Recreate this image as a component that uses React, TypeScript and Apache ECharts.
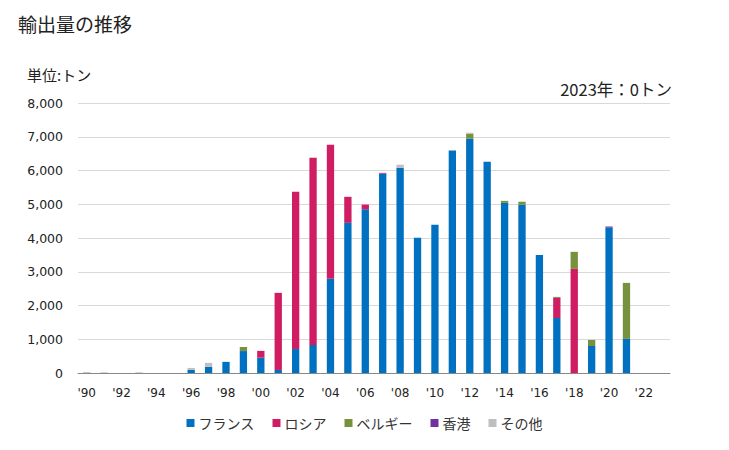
import React, { useEffect, useRef } from "react";
import * as echarts from "echarts";

const years = Array.from({ length: 34 }, (_, i) => String(1990 + i));
// 1990 ... 2023
const france = [0, 0, 0, 0, 0, 0, 90, 180, 330, 650, 455, 90, 710, 830, 2790, 4450, 4850, 5910, 6080, 4005, 4390, 6590, 6940, 6260, 5040, 4985, 3500, 1630, 0, 800, 4310, 1010, 0, 0];
const russia = [0, 0, 0, 0, 0, 0, 0, 0, 0, 0, 200, 2285, 4660, 5550, 3975, 770, 140, 20, 0, 0, 0, 0, 0, 0, 0, 0, 0, 595, 3085, 0, 0, 0, 0, 0];
const belgium = [0, 0, 0, 0, 0, 0, 0, 0, 0, 120, 0, 0, 0, 0, 0, 0, 0, 0, 0, 0, 0, 0, 150, 0, 60, 90, 0, 30, 505, 180, 0, 1660, 0, 0];
const hongkong = [0, 0, 0, 0, 0, 0, 0, 0, 0, 0, 0, 0, 0, 0, 0, 0, 0, 0, 0, 0, 0, 0, 0, 0, 0, 0, 0, 0, 0, 0, 30, 0, 0, 0];
const other = [25, 20, 0, 20, 0, 0, 60, 120, 0, 0, 0, 0, 0, 0, 0, 0, 0, 0, 90, 0, 0, 0, 30, 0, 0, 0, 0, 0, 0, 0, 0, 0, 0, 0];

const seriesNames = ["フランス", "ロシア", "ベルギー", "香港", "その他"];
const seriesColors = ["#0070c0", "#d01c62", "#76923c", "#7030a0", "#bfbfbf"];
const seriesData = [france, russia, belgium, hongkong, other];

const FONT = "'Noto Sans CJK JP', 'Noto Sans', sans-serif";
const NUMFONT = "'DejaVu Sans', sans-serif";

export default function App() {
  const ref = useRef<HTMLDivElement>(null);
  useEffect(() => {
    if (!ref.current) return;
    const chart = echarts.init(ref.current, null, { renderer: "svg" });
    chart.setOption({
      animation: false,
      textStyle: { fontFamily: FONT },
      graphic: [
        { type: "text", left: 18, top: 14, style: { text: "輸出量の推移", fontSize: 19, fill: "#222", fontFamily: FONT } },
        { type: "text", left: 27, top: 67, style: { text: "単位:トン", fontSize: 15, fill: "#222", fontFamily: FONT } },
        { type: "text", right: 57, top: 81, style: { text: "2023年：0トン", fontSize: 16.5, fill: "#222", fontFamily: FONT } },
      ],
      legend: {
        bottom: 15,
        left: "center",
        itemWidth: 8,
        itemHeight: 8,
        itemGap: 18,
        icon: "rect",
        textStyle: { fontSize: 14, color: "#333", fontFamily: FONT, padding: [0, 0, 0, -1] },
        data: seriesNames,
      },
      grid: { left: 78, right: 59, top: 103, bottom: 77 },
      xAxis: {
        type: "category",
        data: years,
        axisTick: { show: false },
        axisLine: { lineStyle: { color: "#888", width: 1 } },
        axisLabel: {
          interval: 1,
          fontSize: 12,
          fontFamily: NUMFONT,
          color: "#222",
          margin: 14,
          formatter: (v: string) => "'" + v.slice(2),
        },
      },
      yAxis: {
        type: "value",
        min: 0,
        max: 8000,
        interval: 1000,
        axisLine: { show: false },
        axisTick: { show: false },
        splitLine: { lineStyle: { color: "#d9d9d9", width: 1 } },
        axisLabel: {
          fontSize: 12.5,
          fontFamily: NUMFONT,
          color: "#222",
          margin: 15,
          formatter: (v: number) => v.toLocaleString("en-US"),
        },
      },
      series: seriesNames.map((name, i) => ({
        name,
        type: "bar",
        stack: "total",
        barWidth: "42%",
        itemStyle: { color: seriesColors[i] },
        data: seriesData[i],
      })),
    });
    return () => chart.dispose();
  }, []);
  return <div ref={ref} style={{ width: 729, height: 450, margin: -8 }} />;
}
